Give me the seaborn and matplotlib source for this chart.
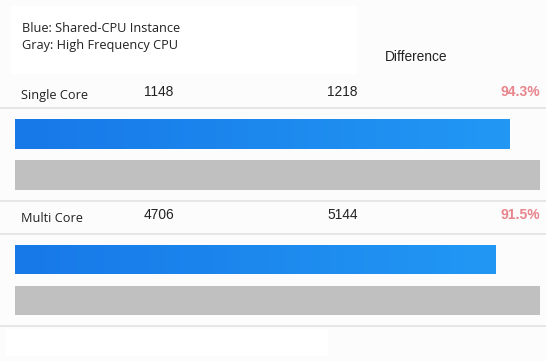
import numpy as np
import matplotlib
matplotlib.use("Agg")
import matplotlib.pyplot as plt
from matplotlib.patches import Rectangle
import seaborn as sns

# Dados
grupos = ["Single Core", "Multi Core"]
shared_cpu = [1148, 4706]
high_freq = [1218, 5144]
legenda = ["Blue: Shared-CPU Instance", "Gray: High Frequency CPU"]

W, H = 546, 361
COR_AZUL_INI = "#1778e8"
COR_AZUL_FIM = "#2298f4"
COR_CINZA = "#c0c0c0"
COR_TEXTO = "#222222"
COR_DIF = "#e8848c"
COR_LINHA = "#e2e2e2"

sns.set_style("white")
plt.rcParams["font.family"] = ["Open Sans", "DejaVu Sans"]

fig = plt.figure(figsize=(W / 100, H / 100), dpi=100)
fig.patch.set_facecolor("#fcfcfc")

# eixo de fundo em coordenadas de pixel
bg = fig.add_axes([0, 0, 1, 1])
bg.set_xlim(0, W)
bg.set_ylim(H, 0)
bg.axis("off")
bg.patch.set_alpha(0)

bg.add_patch(Rectangle((10, 6), 347, 67, color="white", zorder=0))
bg.add_patch(Rectangle((6, 329), 321, 26, color="white", zorder=0))
for y in [108, 201, 234, 326]:
    bg.axhline(y, color=COR_LINHA, lw=1.2, zorder=1)

bg.text(22, 28, legenda[0], fontsize=9.2, color=COR_TEXTO, va="center")
bg.text(22, 46, legenda[1], fontsize=9.2, color=COR_TEXTO, va="center")
bg.text(385, 57, "Difference", fontsize=9.9, color=COR_TEXTO, va="center",
        family="Liberation Sans")

linhas_texto = [94, 217]
tops = [113.5, 239]
for i, g in enumerate(grupos):
    yt = linhas_texto[i]
    bg.text(21, yt + 1, g, fontsize=9.2, color=COR_TEXTO, va="center")
    bg.text(144, yt - 2, str(shared_cpu[i]), fontsize=9.9, color=COR_TEXTO,
            va="center", family="Liberation Sans")
    bg.text(327, yt - 2, str(high_freq[i]), fontsize=9.9, color=COR_TEXTO,
            va="center", family="Liberation Sans")
    dif = shared_cpu[i] / high_freq[i] * 100
    bg.text(540, yt - 2, f"{dif:.1f}%", fontsize=10, color=COR_DIF,
            va="center", ha="right", fontweight="bold", family="Liberation Sans")

    # barras do grupo
    ax = fig.add_axes([15 / W, 1 - (tops[i] + 82) / H, 525 / W, 82 / H])
    ax.patch.set_alpha(0)
    sns.barplot(x=[shared_cpu[i], high_freq[i]], y=["Blue", "Gray"],
                hue=["Blue", "Gray"], palette=[COR_AZUL_FIM, COR_CINZA],
                width=0.72, legend=False, ax=ax, linewidth=0)
    ax.set_xlim(0, max(shared_cpu[i], high_freq[i]))
    ax.set_ylim(1.5, -0.5)
    ax.axis("off")

    # degradê no azul
    barra = ax.patches[0]
    x0, y0 = barra.get_x(), barra.get_y()
    bw, bh = barra.get_width(), barra.get_height()
    grad = np.linspace(0, 1, 256).reshape(1, -1)
    cmap = matplotlib.colors.LinearSegmentedColormap.from_list(
        "azul", [COR_AZUL_INI, COR_AZUL_FIM])
    im = ax.imshow(grad, extent=[x0, x0 + bw, y0 + bh, y0], aspect="auto",
                   cmap=cmap, zorder=3)
    im.set_clip_path(barra)
    ax.set_xlim(0, max(shared_cpu[i], high_freq[i]))
    ax.set_ylim(1.5, -0.5)

fig.savefig("out.png", dpi=100, facecolor=fig.get_facecolor())
